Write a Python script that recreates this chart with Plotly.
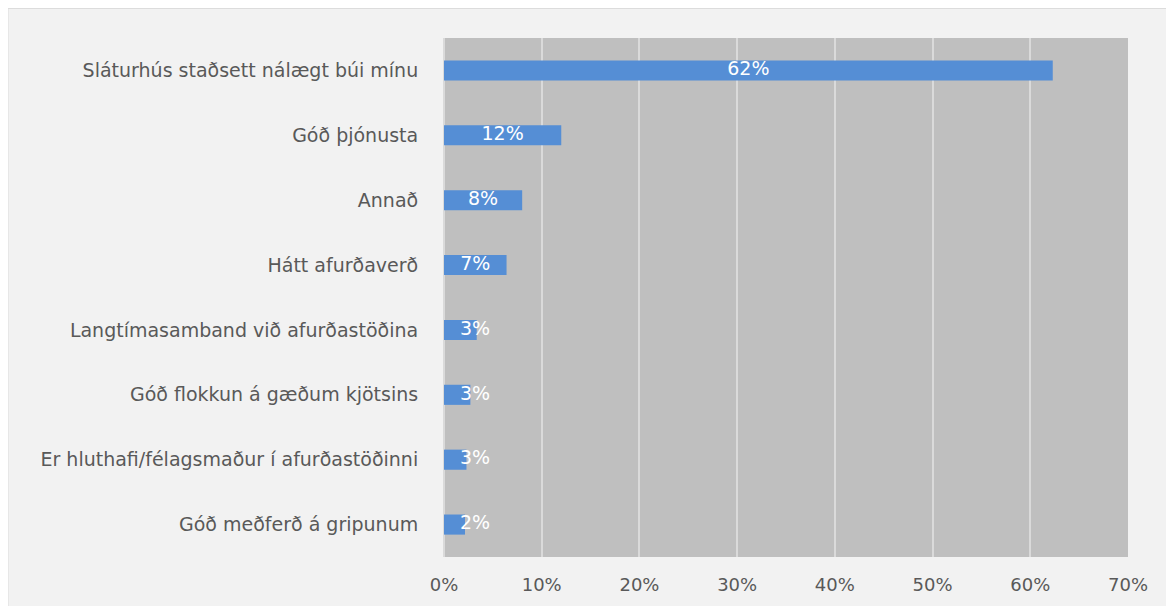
import plotly.graph_objects as go

categories = [
    "Sláturhús staðsett nálægt búi mínu",
    "Góð þjónusta",
    "Annað",
    "Hátt afurðaverð",
    "Langtímasamband við afurðastöðina",
    "Góð flokkun á gæðum kjötsins",
    "Er hluthafi/félagsmaður í afurðastöðinni",
    "Góð meðferð á gripunum",
]
values = [0.623, 0.12, 0.08, 0.064, 0.0335, 0.027, 0.023, 0.0215]
value_labels = ["62%", "12%", "8%", "7%", "3%", "3%", "3%", "2%"]
x_ticks = [0, 0.1, 0.2, 0.3, 0.4, 0.5, 0.6, 0.7]
x_tick_labels = ["0%", "10%", "20%", "30%", "40%", "50%", "60%", "70%"]

# The page body has an 8px margin; the figure sits at (8, 8).
W, H = 1174, 606
L, R, T, B = 436, 54, 30, 57
pw, ph = W - L - R, H - T - B

FONT = "DejaVu Sans"
TXT = "#595959"
MIN_LABEL_X = 0.0318  # labels of short bars are kept clear of the axis (Excel style)

fig = go.Figure()
fig.add_trace(go.Bar(
    x=values, y=categories, orientation="h",
    marker=dict(color="#558ed5", line=dict(width=0)),
    hoverinfo="skip",
))
fig.add_trace(go.Scatter(
    x=[max(v / 2, MIN_LABEL_X) for v in values], y=categories, mode="text",
    text=value_labels, textposition="middle center",
    textfont=dict(family=FONT, size=19, color="white"),
    hoverinfo="skip",
))

fig.update_layout(
    width=W, height=H,
    margin=dict(l=L, r=R, t=T, b=B, pad=0),
    paper_bgcolor="#f2f2f2",
    plot_bgcolor="#bfbfbf",
    showlegend=False,
    bargap=0.69,
    font=dict(family=FONT, size=18, color=TXT),
    shapes=[
        dict(type="rect", xref="paper", yref="paper", layer="above",
             x0=-L / pw, x1=(pw + R + 5) / pw,
             y0=-(B + 5) / ph, y1=(ph + T - 0.5) / ph,
             fillcolor="rgba(0,0,0,0)", line=dict(color="#dcdcdc", width=1)),
    ],
)
fig.update_xaxes(
    range=[0, 0.7], tickvals=x_ticks, ticktext=x_tick_labels,
    showgrid=True, gridcolor="#dadada", gridwidth=1.5,
    zeroline=True, zerolinecolor="#dadada", zerolinewidth=1.5,
    showline=False,
    ticks="outside", ticklen=11, tickcolor="rgba(0,0,0,0)",
    tickfont=dict(family=FONT, size=18, color=TXT),
    fixedrange=True,
)
fig.update_yaxes(
    autorange="reversed", showgrid=False, zeroline=False, showline=False,
    ticks="outside", ticklen=21, tickcolor="rgba(0,0,0,0)",
    tickfont=dict(family=FONT, size=19, color=TXT),
    fixedrange=True,
)

fig.write_html("out.html", config={"displayModeBar": False})
